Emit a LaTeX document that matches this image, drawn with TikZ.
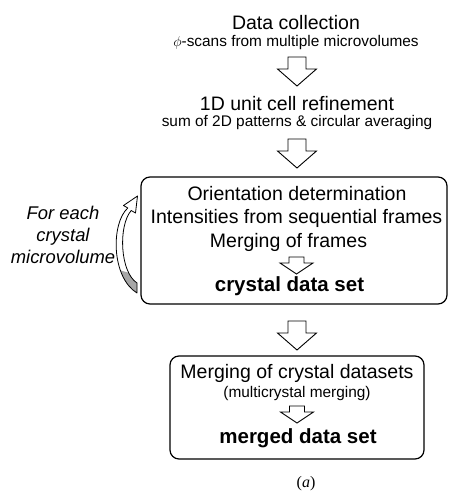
\documentclass[tikz,border=0pt]{standalone}
\usepackage{fontspec}
\setmainfont{Liberation Sans}
\newfontfamily\timesfont{Liberation Serif}
\begin{document}
\begin{tikzpicture}[x=1pt,y=-1pt,line join=miter,
  txt/.style={anchor=base,inner sep=0pt,font=\fontsize{19.5}{23}\selectfont},
  sub/.style={anchor=base,inner sep=0pt,font=\fontsize{15.4}{18}\selectfont},
  bold/.style={anchor=base,inner sep=0pt,font=\fontsize{20.5}{24}\selectfont\bfseries},
  side/.style={anchor=base,inner sep=0pt,font=\fontsize{18.4}{22}\selectfont\itshape},
  panel/.style={draw,rounded corners=9pt,line width=1.2pt,inner sep=0pt},
  hollow/.style={draw,fill=white,line width=0.9pt,line join=miter},
  loopband/.style={draw,line width=0.8pt,line join=round},
  bigdown/.pic={\path[hollow] (-9,0) -- (9,0) -- (9,12) -- (19.5,12) -- (0,29)
                 -- (-19.5,12) -- (-9,12) -- cycle;},
  smalldown/.pic={\path[hollow] (-7.5,0) -- (7.5,0) -- (7.5,6) -- (16.5,6) -- (0,17)
                 -- (-16.5,6) -- (-7.5,6) -- cycle;}]
\useasboundingbox (0,0) rectangle (452,500);

% data collection and unit cell refinement
\node[txt] (collect) at (296,30) {Data collection};
\node[sub] (scans) at (296,46.5) {$\phi$-scans from multiple microvolumes};
\pic at (297,57) {bigdown};
\node[txt] (refine) at (297,110.5) {1D unit cell refinement};
\node[sub] (sum) at (297,126) {sum of 2D patterns \& circular averaging};
\pic at (297,139) {bigdown};

% per-crystal processing
\node[panel,minimum width=306pt,minimum height=127pt] (crystalbox) at (294,240.5) {};
\node[txt] (orient) at (297,200) {Orientation determination};
\node[txt] (intens) at (296.5,223) {Intensities from sequential frames};
\node[txt] (mergeframes) at (288.5,247) {Merging of frames};
\pic at (296.5,257) {smalldown};
\node[bold] (crystalset) at (289.5,291) {crystal data set};

% loop label and curved ribbon arrow
\node[side] (for) at (63,219) {For each};
\node[side] (cryst) at (63,241.5) {crystal};
\node[side] (micro) at (63,263) {microvolume};
\def\ribbon{(137,283) .. controls (120,272) and (118,226) .. (131.2,210.5)
  -- (135.5,213) -- (137.5,196) -- (123.5,205.5) -- (127.8,208)
  .. controls (111,223) and (111,277) .. (137,293) -- cycle}
\fill[white] \ribbon;
\begin{scope}
  \clip \ribbon;
  \fill[gray!70] (105,266) -- (140,276) -- (140,300) -- (105,300) -- cycle;
\end{scope}
\path[loopband] \ribbon;

\pic at (297,321) {bigdown};

% multicrystal merging
\node[panel,minimum width=254pt,minimum height=103pt] (mergebox) at (297,407.5) {};
\node[txt] (mergecryst) at (297,378) {Merging of crystal datasets};
\node[sub] (multi) at (297,397) {(multicrystal merging)};
\pic at (297,406) {smalldown};
\node[bold] (mergedset) at (298,443) {merged data set};

\node[anchor=base,inner sep=0pt,font=\timesfont\fontsize{16}{19}\selectfont] (label) at (306,487) {(\textit{a})};
\end{tikzpicture}
\end{document}
